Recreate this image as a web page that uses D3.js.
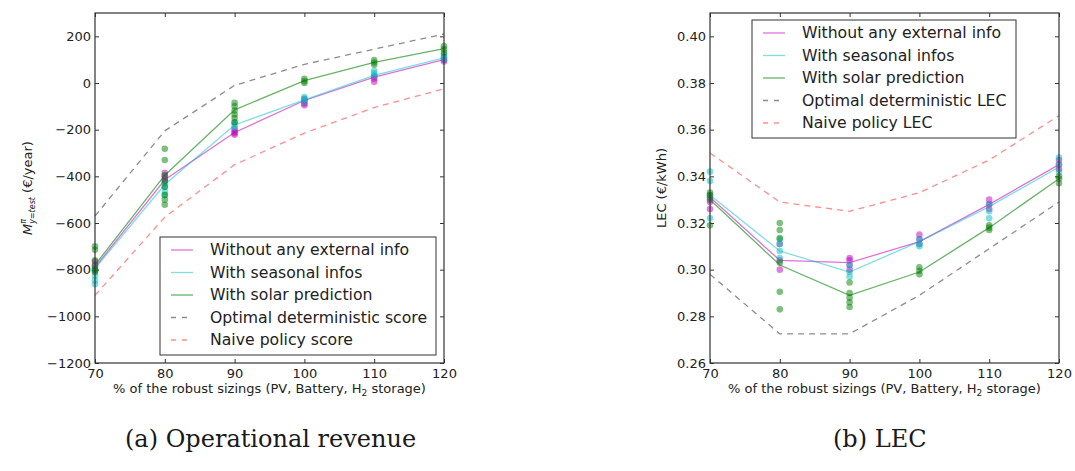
<!DOCTYPE html>
<html>
<head>
<meta charset="utf-8">
<script src="https://cdn.jsdelivr.net/npm/d3@7"></script>
<style>
	body { margin: 0; background: #fff; }
	text { font-family: "DejaVu Sans", sans-serif; fill: #222; }
	.caption { font-family: "DejaVu Serif", serif; font-size: 24px; fill: #1a1a1a; }
</style>
</head>
<body>
<div id="chart"></div>
<script>
/* SET UP */

const w = 1075;
const h = 471;

const sizings = [70, 80, 90, 100, 110, 120];

// (a) operational revenue (€/year), mean curves
const revWithout = [-790, -415, -212, -75, 25, 100];
const revSeasonal = [-795, -435, -180, -72, 33, 108];
const revSolar = [-780, -395, -115, 10, 88, 147];
const revOptimal = [-570, -205, -10, 80, 145, 210];
const revNaive = [-910, -575, -350, -215, -105, -25];

// (a) individual runs at each sizing
const revWithoutRuns = [
	[-765, -780, -795, -805], [-385, -400, -410, -420], [-198, -208, -215, -222],
	[-68, -78, -88, -95], [5, 18, 28], [92, 100, 110]
];
const revSeasonalRuns = [
	[-800, -825, -845, -862], [-430, -445, -465, -480], [-168, -178, -190],
	[-60, -70, -80], [32, 42, 52], [100, 112, 122]
];
const revSolarRuns = [
	[-700, -715, -760, -785, -800, -810], [-282, -330, -395, -420, -445, -480, -500, -522],
	[-85, -100, -118, -135, -150, -168], [0, 8, 18], [78, 88, 98], [130, 145, 158]
];

// (b) LEC (€/kWh), mean curves
const lecWithout = [0.331, 0.304, 0.303, 0.312, 0.328, 0.345];
const lecSeasonal = [0.332, 0.308, 0.299, 0.312, 0.327, 0.344];
const lecSolar = [0.330, 0.302, 0.289, 0.299, 0.318, 0.339];
const lecOptimal = [0.298, 0.2725, 0.2725, 0.289, 0.309, 0.329];
const lecNaive = [0.350, 0.329, 0.325, 0.333, 0.347, 0.366];

// (b) individual runs
const lecWithoutRuns = [
	[0.326, 0.329, 0.331], [0.311, 0.304, 0.300], [0.305, 0.304, 0.302, 0.300],
	[0.315, 0.313, 0.311], [0.330, 0.328, 0.326], [0.347, 0.345, 0.343]
];
const lecSeasonalRuns = [
	[0.342, 0.338, 0.332, 0.322], [0.313, 0.311, 0.308, 0.305], [0.302, 0.299, 0.297],
	[0.313, 0.311, 0.310], [0.328, 0.325, 0.322], [0.348, 0.345, 0.342]
];
const lecSolarRuns = [
	[0.319, 0.330, 0.332, 0.333], [0.320, 0.317, 0.3135, 0.303, 0.2905, 0.283],
	[0.2945, 0.290, 0.288, 0.286, 0.284], [0.301, 0.2995, 0.298],
	[0.319, 0.318, 0.317], [0.340, 0.339, 0.337]
];

const revTicks = [-1200, -1000, -800, -600, -400, -200, 0, 200];
const lecTicks = [0.26, 0.28, 0.30, 0.32, 0.34, 0.36, 0.38, 0.40];

const revLabels = ["Without any external info", "With seasonal infos", "With solar prediction",
	"Optimal deterministic score", "Naive policy score"];
const lecLabels = ["Without any external info", "With seasonal infos", "With solar prediction",
	"Optimal deterministic LEC", "Naive policy LEC"];

// line styles: magenta, cyan, green, black dashed, red dashed
const styles = [
	{ color: "#bf00bf", op: 0.55, dash: null },
	{ color: "#00bfbf", op: 0.5, dash: null },
	{ color: "#008000", op: 0.6, dash: null },
	{ color: "#000000", op: 0.45, dash: "6,5" },
	{ color: "#ff0000", op: 0.45, dash: "6,5" },
];

const svg = d3.select("#chart").append("svg").attr("width", w).attr("height", h);

// FUNCTION to draw one panel
function drawPanel(p) {
	const x = d3.scaleLinear().domain([70, 120]).range([p.left, p.left + 349]);
	const y = d3.scaleLinear().domain(p.yDomain).range([363, 13]);
	const g = svg.append("g");

	// ticks on all four sides, pointing inward
	g.append("g").attr("transform", "translate(0,363)")
		.call(d3.axisBottom(x).tickValues(sizings).tickSize(-4).tickPadding(6).tickSizeOuter(0))
		.call((a) => a.select(".domain").remove());
	g.append("g").attr("transform", "translate(0,13)")
		.call(d3.axisTop(x).tickValues(sizings).tickSize(-4).tickFormat("").tickSizeOuter(0))
		.call((a) => a.select(".domain").remove());
	g.append("g").attr("transform", `translate(${p.left},0)`)
		.call(d3.axisLeft(y).tickValues(p.ticks).tickSize(-4).tickPadding(4).tickFormat(p.fmt).tickSizeOuter(0))
		.call((a) => a.select(".domain").remove());
	g.append("g").attr("transform", `translate(${p.left + 349},0)`)
		.call(d3.axisRight(y).tickValues(p.ticks).tickSize(-4).tickFormat("").tickSizeOuter(0))
		.call((a) => a.select(".domain").remove());
	g.selectAll(".tick line").attr("stroke", "#333");
	g.selectAll(".tick text").attr("font-size", 13).attr("font-family", "DejaVu Sans").attr("fill", "#222");

	// curves
	const line = d3.line().x((d, i) => x(sizings[i])).y((d) => y(d));
	p.series.forEach((s, i) => {
		g.append("path")
			.datum(s)
			.attr("d", line)
			.attr("fill", "none")
			.attr("stroke", styles[i].color)
			.attr("stroke-opacity", styles[i].op)
			.attr("stroke-width", 1.3)
			.attr("stroke-dasharray", styles[i].dash);
	});

	// runs as translucent dots
	p.runs.forEach((r, i) => {
		const pts = r.flatMap((vals, k) => vals.map((v) => [sizings[k], v]));
		g.selectAll(null)
			.data(pts)
			.join("circle")
			.attr("cx", (d) => x(d[0]))
			.attr("cy", (d) => y(d[1]))
			.attr("r", 3.3)
			.attr("fill", styles[i].color)
			.attr("fill-opacity", 0.5);
	});

	// frame
	g.append("rect")
		.attr("x", p.left).attr("y", 13).attr("width", 349).attr("height", 350)
		.attr("fill", "none").attr("stroke", "#333").attr("stroke-width", 1.2);

	// x label
	const xl = g.append("text")
		.attr("x", p.left + 174.5).attr("y", 393)
		.attr("text-anchor", "middle").attr("font-size", 13);
	xl.append("tspan").text("% of the robust sizings (PV, Battery, H");
	xl.append("tspan").text("2").attr("font-size", 9).attr("dy", 3);
	xl.append("tspan").text(" storage)").attr("dy", -3);

	// legend
	const lg = g.append("g");
	lg.append("rect")
		.attr("x", p.legend.x).attr("y", p.legend.y)
		.attr("width", p.legend.w).attr("height", 118)
		.attr("fill", "#fff").attr("stroke", "#333").attr("stroke-width", 1);
	p.labels.forEach((lab, i) => {
		const ry = p.legend.y + 13 + i * 22.5;
		lg.append("line")
			.attr("x1", p.legend.x + 11).attr("x2", p.legend.x + 33)
			.attr("y1", ry).attr("y2", ry)
			.attr("stroke", styles[i].color)
			.attr("stroke-opacity", styles[i].op)
			.attr("stroke-width", 1.3)
			.attr("stroke-dasharray", styles[i].dash ? "5,6" : null);
		lg.append("text")
			.attr("x", p.legend.x + 50).attr("y", ry).attr("dy", "0.35em")
			.attr("font-size", 15.7).text(lab);
	});

	// caption
	svg.append("text").attr("class", "caption")
		.attr("x", p.capX).attr("y", 447).text(p.caption);

	return g;
}

/* MAKING THE CHARTS */

drawPanel({
	left: 95,
	yDomain: [-1200, 300],
	ticks: revTicks,
	fmt: d3.format("d"),
	series: [revWithout, revSeasonal, revSolar, revOptimal, revNaive],
	runs: [revWithoutRuns, revSeasonalRuns, revSolarRuns],
	labels: revLabels,
	legend: { x: 160, y: 237, w: 276 },
	caption: "(a) Operational revenue",
	capX: 125,
});

// y label with math for panel (a)
const yl = svg.append("text")
	.attr("transform", "translate(32,188) rotate(-90)")
	.attr("text-anchor", "middle").attr("font-size", 13);
yl.append("tspan").text("M").attr("font-style", "italic");
yl.append("tspan").text("π").attr("font-size", 8).attr("dy", -6).attr("font-style", "italic");
yl.append("tspan").text("y=test").attr("font-size", 8).attr("dx", -5).attr("dy", 9).attr("font-style", "italic");
yl.append("tspan").text(" (€/year)").attr("dy", -3);

drawPanel({
	left: 710,
	yDomain: [0.26, 0.41],
	ticks: lecTicks,
	fmt: d3.format(".2f"),
	series: [lecWithout, lecSeasonal, lecSolar, lecOptimal, lecNaive],
	runs: [lecWithoutRuns, lecSeasonalRuns, lecSolarRuns],
	labels: lecLabels,
	legend: { x: 752, y: 20, w: 264 },
	caption: "(b) LEC",
	capX: 833,
});

svg.append("text")
	.attr("transform", "translate(666,188) rotate(-90)")
	.attr("text-anchor", "middle").attr("font-size", 13)
	.text("LEC (€/kWh)");
</script>
</body>
</html>
